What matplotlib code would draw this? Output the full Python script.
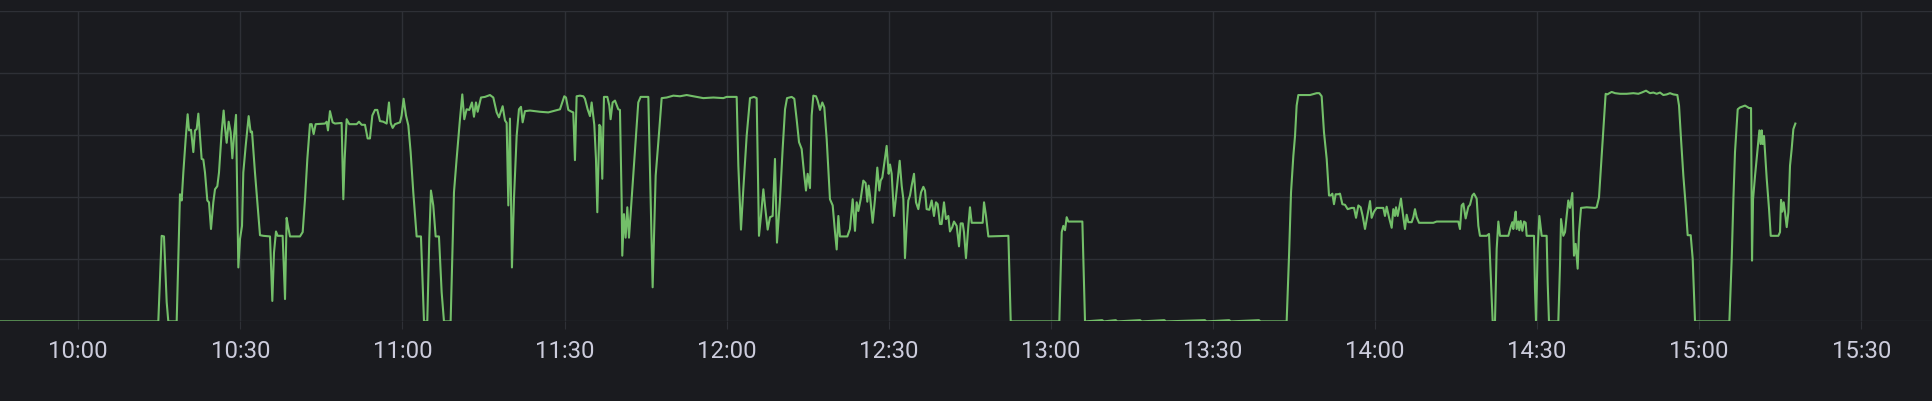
import matplotlib
matplotlib.use("Agg")
import matplotlib.pyplot as plt
import matplotlib.dates as mdates
import pandas as pd

# minutes after 10:00 and power (kW)
min_a = [-14.49, 14.81, 15.43, 15.86, 16.36, 16.66, 18.21, 18.82, 19.13, 19.44,
         19.87, 20.24, 20.49, 20.86, 21.29, 21.60, 21.91, 22.22, 22.52, 22.83,
         23.14, 23.45, 23.88, 24.19, 24.56, 24.99, 25.30, 25.73, 26.04, 26.53,
         26.90, 27.15, 27.46, 27.83, 28.20, 28.51, 28.82, 29.19, 29.43, 29.62,
         29.93, 30.30, 30.54, 30.98, 31.53, 31.90, 32.15, 32.70, 33.14, 33.63,
         34.25, 35.48, 35.91, 36.22, 36.59, 36.90, 37.82, 38.26, 38.56, 38.81,
         39.18, 41.03, 41.53, 41.96, 42.39, 42.88, 43.19, 43.56, 43.93, 45.66,
         45.97, 46.21, 46.58]
kw_a = [0, 0, 1.38, 1.37, 0.31, 0, 0, 2.05, 1.95, 2.40,
        2.94, 3.34, 3.08, 3.09, 2.73, 3.08, 3.10, 3.35, 2.99, 2.62,
        2.61, 2.40, 1.95, 1.92, 1.49, 1.92, 2.13, 2.18, 2.40, 3.05,
        3.40, 3.13, 2.88, 3.22, 3.05, 2.63, 2.99, 3.33, 1.97, 0.87,
        1.33, 1.54, 2.40, 2.83, 3.31, 3.05, 3.06, 2.40, 1.92, 1.39,
        1.38, 1.37, 0.33, 1.11, 1.45, 1.38, 1.38, 0.36, 1.67, 1.54,
        1.37, 1.37, 1.44, 1.97, 2.62, 3.18, 3.18, 3.02, 3.18, 3.19,
        3.22, 3.08, 3.39]

min_b = [47.07, 47.51, 48.74, 49.05, 49.30, 49.67, 50.16, 51.52, 51.95, 52.44,
         53.06, 53.55, 53.98, 54.42, 54.91, 55.34, 55.83, 56.45, 57.07, 57.50,
         57.81, 58.18, 58.61, 59.54, 59.84, 60.21, 60.65, 61.08, 61.51, 62.00,
         62.62, 63.42, 63.98, 64.59, 64.96, 65.27, 65.70, 66.14, 66.75, 67.25,
         67.68, 68.91, 69.53, 70.02, 70.64, 71.07, 71.44, 71.87, 72.37, 72.86,
         73.23, 73.60, 73.91, 74.53, 75.27, 76.19, 76.81, 77.43, 77.86, 78.54,
         78.97, 79.28, 79.59, 79.89, 80.26, 80.63, 81.13, 81.56, 81.93, 82.24,
         82.67, 83.59, 85.45, 86.99, 89.15, 89.58, 89.95, 90.26, 90.69, 91.31,
         91.61, 91.92, 92.23, 92.85, 93.47, 93.77, 94.27, 94.70, 95.01, 95.50,
         95.81, 96.06, 96.43, 96.67, 96.98, 97.29, 97.91, 98.28, 98.52, 98.89,
         99.33, 99.63, 99.94, 100.25, 100.56, 100.68, 100.99, 101.30, 101.61, 101.92,
         102.41, 103.03, 103.64, 104.08, 105.50]
kw_b = [3.21, 3.19, 3.20, 1.97, 2.62, 3.26, 3.18, 3.18, 3.22, 3.17,
        3.17, 2.95, 2.95, 3.32, 3.41, 3.41, 3.23, 3.22, 3.19, 3.53,
        3.20, 3.12, 3.18, 3.21, 3.32, 3.59, 3.32, 3.16, 2.73, 2.08,
        1.37, 1.37, 0, 0, 1.33, 2.11, 1.87, 1.37, 1.37, 0.47,
        0, 0, 2.08, 2.62, 3.26, 3.66, 3.26, 3.42, 3.41, 3.53,
        3.30, 3.53, 3.38, 3.61, 3.62, 3.65, 3.61, 3.37, 3.29, 3.47,
        3.24, 3.20, 1.87, 3.27, 0.87, 1.97, 2.99, 3.42, 3.46, 3.21,
        3.39, 3.40, 3.38, 3.37, 3.42, 3.53, 3.63, 3.61, 3.41, 3.38,
        3.37, 2.60, 3.63, 3.64, 3.63, 3.59, 3.42, 3.31, 3.53, 3.17,
        2.62, 1.76, 3.17, 3.14, 2.30, 3.62, 3.62, 3.48, 3.26, 3.53,
        3.56, 3.49, 3.42, 3.41, 1.97, 1.06, 1.73, 1.35, 1.84, 1.35,
        1.97, 2.78, 3.53, 3.62, 3.62]

min_c = [105.81, 106.30, 106.86, 107.35, 107.97, 108.90, 110.13, 111.36, 112.60, 113.83,
         115.68, 117.53, 119.38, 120.00, 121.85, 122.16, 122.65, 123.08, 123.70, 124.32,
         125.06, 125.55, 125.98, 126.35, 126.79, 127.09, 127.59, 128.02, 128.51, 128.94,
         129.31, 129.87, 130.36, 130.80, 131.17, 132.03, 132.52, 132.95, 133.39, 133.88,
         134.31, 134.68, 134.99, 135.42, 135.73, 136.04, 136.53, 136.84, 137.27, 137.70,
         138.07, 138.51, 139.12, 139.62, 140.05, 140.36, 140.67, 140.97, 142.33, 142.82,
         143.32, 143.75, 144.06, 144.37, 144.80, 145.29, 145.72, 146.03, 146.28, 146.53,
         147.02, 147.45, 147.88, 148.25, 148.50, 148.81, 149.18, 149.61, 149.98, 150.23,
         150.54, 150.97, 151.46, 152.02, 152.39, 152.70, 153.00, 153.31, 153.62, 153.93,
         154.24, 154.67, 155.04, 155.47, 155.97, 156.40, 156.71, 157.01, 157.51, 157.94,
         158.37, 158.74, 159.05, 159.48, 159.79, 160.22, 160.59, 161.02, 161.33, 161.76,
         162.07, 162.57, 163.00, 163.31, 163.68, 163.92, 164.29, 164.73, 165.03]
kw_c = [2.40, 0.55, 2.35, 2.89, 3.60, 3.61, 3.64, 3.63, 3.65, 3.63,
        3.60, 3.61, 3.60, 3.62, 3.62, 2.51, 1.48, 2.13, 2.99, 3.60,
        3.62, 3.60, 1.38, 1.70, 2.13, 1.87, 1.48, 1.68, 1.70, 2.62,
        1.27, 1.97, 2.78, 3.42, 3.60, 3.62, 3.59, 3.26, 2.89, 2.78,
        2.40, 2.11, 2.38, 2.15, 3.32, 3.64, 3.63, 3.56, 3.41, 3.53,
        3.45, 2.94, 1.97, 1.87, 1.44, 1.16, 1.70, 1.37, 1.37, 1.49,
        1.97, 1.46, 1.92, 1.78, 1.97, 2.27, 2.23, 1.93, 2.19, 2.03,
        1.59, 1.97, 2.48, 2.11, 2.27, 2.32, 2.56, 2.83, 2.38, 2.53,
        2.38, 1.70, 2.11, 2.59, 2.19, 1.97, 1.02, 1.54, 1.95, 2.03,
        2.19, 2.38, 1.92, 1.81, 2.08, 2.17, 2.11, 1.81, 1.80, 1.95,
        1.70, 1.92, 1.89, 1.57, 1.57, 1.92, 1.65, 1.70, 1.45, 1.52,
        1.61, 1.54, 1.21, 1.58, 1.58, 1.44, 1.02, 1.54, 1.84]

min_d = [165.35, 167.38, 167.63, 168.00, 168.43, 172.14, 172.57, 181.57, 182.01, 182.31,
         182.62, 182.93, 183.24, 185.83, 186.32, 189.5, 189.8, 192.0, 192.3, 196.5,
         196.8, 201.0, 201.3, 208.5, 208.8, 213.0, 213.3, 218.5, 218.8]
kw_d = [1.59, 1.59, 1.92, 1.70, 1.37, 1.38, 0, 0, 1.44, 1.54,
        1.47, 1.68, 1.61, 1.61, 0, 0.02, 0, 0.02, 0, 0.02,
        0, 0.02, 0, 0.02, 0, 0.02, 0, 0.02, 0]

min_e = [223.64, 224.08, 224.45, 224.88, 225.19, 225.49, 225.80, 227.96, 229.20, 229.69,
         230.12, 230.55, 231.05, 231.48, 231.79, 232.10, 232.40, 232.71, 233.21, 233.51,
         233.95, 234.44, 234.93, 235.67, 236.11, 236.48, 236.91, 237.34, 237.71, 238.14,
         238.57, 239.07, 239.37, 239.81, 240.30, 241.53, 241.84, 242.15, 242.58, 243.08,
         243.38, 243.69, 243.88, 244.19, 244.43, 244.80, 245.11, 245.54, 245.85, 246.16,
         246.78, 247.09, 247.39, 247.70, 248.14, 250.79, 251.40, 255.41, 255.72, 256.03,
         256.34, 256.77, 257.27, 257.57, 258.01, 258.31, 258.81, 259.12, 259.42, 260.66,
         261.09, 261.46, 261.77, 262.20, 262.51, 262.82, 263.13, 264.67, 265.10, 265.41,
         265.59, 265.78, 266.03, 266.21, 266.52, 266.70, 266.95, 267.26, 267.57, 267.88,
         268.06, 269.42, 269.60, 269.79, 270.10, 270.41, 270.84, 271.76, 271.95, 272.19,
         273.92, 274.23, 274.42, 274.85, 275.16, 275.46, 275.77, 276.08, 276.51, 276.82,
         277.13, 277.50, 277.75, 278.12, 279.17, 280.71, 281.02, 281.45, 281.94, 282.25,
         282.68]
kw_e = [0, 1.06, 2.08, 2.67, 2.99, 3.48, 3.65, 3.65, 3.68, 3.68,
        3.63, 3.05, 2.62, 2.03, 2.03, 2.06, 1.89, 2.05, 2.05, 2.06,
        1.89, 1.88, 1.81, 1.83, 1.83, 1.67, 1.87, 1.84, 1.70, 1.49,
        1.70, 1.94, 1.67, 1.77, 1.83, 1.83, 1.70, 1.85, 1.68, 1.51,
        1.81, 1.70, 1.84, 1.70, 1.81, 1.98, 1.76, 1.49, 1.72, 1.60,
        1.60, 1.68, 1.81, 1.68, 1.59, 1.59, 1.61, 1.61, 1.49, 1.87,
        1.90, 1.66, 1.85, 1.88, 2.03, 2.06, 1.98, 1.54, 1.38, 1.38,
        1.41, 0.63, 0, 0, 1.17, 1.61, 1.38, 1.38, 1.52, 1.60,
        1.49, 1.62, 1.77, 1.49, 1.61, 1.47, 1.62, 1.46, 1.61, 1.59,
        1.38, 1.38, 0.52, 0, 1.17, 1.70, 1.38, 1.38, 0.63, 0,
        0, 0.90, 1.65, 1.38, 1.44, 1.70, 1.95, 1.83, 2.07, 1.06,
        1.25, 0.85, 1.44, 1.83, 1.84, 1.83, 1.84, 2.00, 2.67, 3.10,
        3.67]

min_f = [283.00, 283.37, 283.80, 284.42, 285.34, 286.58, 287.81, 288.73, 289.35, 290.15,
         290.89, 291.51, 292.13, 292.74, 293.36, 293.98, 294.59, 295.21, 295.95, 296.26,
         296.63, 297.06, 297.49, 297.86, 298.42, 298.79, 299.22, 305.58, 306.01, 306.32,
         306.62, 307.12, 307.55, 308.48, 309.22, 309.59, 309.77, 309.96, 310.33, 310.76,
         311.13, 311.37, 311.56, 311.74, 311.99, 312.49, 312.92, 313.23, 314.64, 314.95,
         315.14, 315.38, 315.63, 315.88, 316.19, 316.50, 316.80, 317.11, 317.42, 317.79]
kw_f = [3.66, 3.68, 3.70, 3.68, 3.67, 3.67, 3.68, 3.67, 3.69, 3.72,
        3.68, 3.69, 3.67, 3.69, 3.65, 3.66, 3.68, 3.66, 3.65, 3.48,
        2.94, 2.35, 1.87, 1.39, 1.39, 1.01, 0, 0, 1.01, 1.97,
        2.73, 3.42, 3.45, 3.48, 3.44, 3.44, 0.98, 1.97, 2.35, 2.75,
        3.08, 2.86, 3.08, 2.86, 2.99, 2.30, 1.81, 1.38, 1.38, 1.44,
        1.96, 1.77, 1.92, 1.76, 1.52, 1.76, 2.51, 2.78, 3.10, 3.19]

minutes = min_a + min_b + min_c + min_d + min_e + min_f
power = kw_a + kw_b + kw_c + kw_d + kw_e + kw_f

start = pd.Timestamp("2024-05-14 10:00")
times = start + pd.to_timedelta(minutes, unit="min")

bg = "#1a1b1f"
grid_c = "#2e3036"
text_c = "#ccccdc"

plt.rcParams["font.family"] = ["Roboto", "DejaVu Sans"]

fig = plt.figure(figsize=(19.32, 4.02), dpi=100, facecolor=bg)
ax = fig.add_axes([0, 0.198, 1, 0.7714])
ax.set_facecolor(bg)

ax.plot(times, power, color="#73bf69", lw=1.5)

ax.set_xlim(start + pd.Timedelta(minutes=-14.49), start + pd.Timedelta(minutes=343.08))
ax.set_ylim(0, 5)
ax.set_yticks(range(0, 6))
ax.xaxis.set_major_locator(mdates.MinuteLocator(byminute=[0, 30]))
ax.xaxis.set_major_formatter(mdates.DateFormatter("%H:%M"))

for s in ax.spines.values():
    s.set_visible(False)
ax.grid(True, color=grid_c, lw=1)
ax.tick_params(axis="x", length=5.8, color=grid_c, labelcolor=text_c,
               labelsize=17.2, pad=7)
ax.tick_params(axis="y", left=False, labelleft=False)

fig.savefig("out.png", dpi=100, facecolor=bg)
